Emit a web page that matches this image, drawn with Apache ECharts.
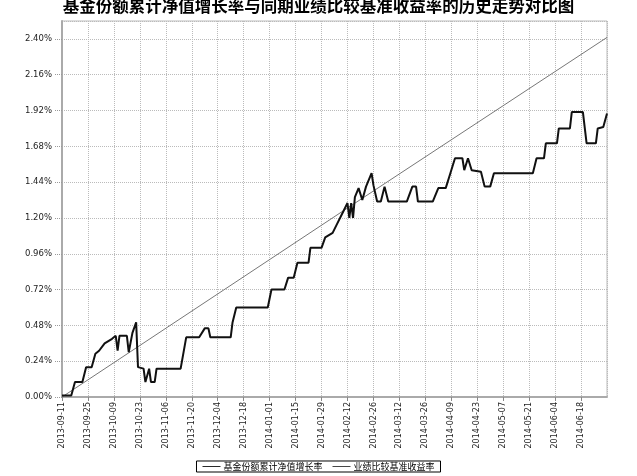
<!DOCTYPE html>
<html>
<head>
<meta charset="utf-8">
<script src="https://cdn.jsdelivr.net/npm/echarts@6/dist/echarts.min.js"></script>
<style>html,body{margin:0;padding:0;background:#fff}#c{width:637px;height:476px}</style>
</head>
<body>
<div id="c"></div>
<script>
var titleText = '基金份额累计净值增长率与同期业绩比较基准收益率的历史走势对比图';
var seriesNames = ['基金份额累计净值增长率', '业绩比较基准收益率'];
var startDate = '2013-09-11';
var endDate = '2014-07-02';
var yTicks = [0.00, 0.24, 0.48, 0.72, 0.96, 1.20, 1.44, 1.68, 1.92, 2.16, 2.40];

var fundDates = ['2013-09-11','2013-09-16','2013-09-18','2013-09-22','2013-09-24','2013-09-27','2013-09-29','2013-10-01','2013-10-04','2013-10-08','2013-10-10','2013-10-11','2013-10-12','2013-10-16','2013-10-17','2013-10-18','2013-10-19','2013-10-21','2013-10-22','2013-10-25','2013-10-26','2013-10-27','2013-10-28','2013-10-29','2013-10-31','2013-11-01','2013-11-14','2013-11-17','2013-11-24','2013-11-27','2013-11-29','2013-11-30','2013-12-11','2013-12-12','2013-12-14','2013-12-31','2014-01-02','2014-01-09','2014-01-11','2014-01-14','2014-01-16','2014-01-22','2014-01-23','2014-01-29','2014-01-31','2014-02-04','2014-02-06','2014-02-10','2014-02-12','2014-02-13','2014-02-14','2014-02-15','2014-02-16','2014-02-18','2014-02-20','2014-02-22','2014-02-25','2014-02-26','2014-02-28','2014-03-02','2014-03-04','2014-03-06','2014-03-16','2014-03-19','2014-03-21','2014-03-22','2014-03-30','2014-04-02','2014-04-06','2014-04-08','2014-04-11','2014-04-15','2014-04-16','2014-04-17','2014-04-18','2014-04-20','2014-04-25','2014-04-27','2014-04-30','2014-05-02','2014-05-23','2014-05-25','2014-05-29','2014-05-30','2014-06-05','2014-06-06','2014-06-12','2014-06-13','2014-06-19','2014-06-21','2014-06-26','2014-06-27','2014-06-30','2014-07-02'];
var fundValues = [0.01,0.01,0.10,0.10,0.20,0.20,0.29,0.31,0.36,0.39,0.41,0.31,0.41,0.41,0.30,0.30,0.43,0.50,0.20,0.19,0.10,0.10,0.19,0.10,0.10,0.19,0.19,0.40,0.40,0.46,0.46,0.40,0.40,0.50,0.60,0.60,0.72,0.72,0.80,0.80,0.90,0.90,1.00,1.00,1.07,1.10,1.15,1.25,1.30,1.20,1.30,1.20,1.34,1.40,1.32,1.41,1.50,1.42,1.31,1.31,1.41,1.31,1.31,1.41,1.41,1.31,1.31,1.40,1.40,1.48,1.60,1.60,1.52,1.52,1.60,1.52,1.51,1.41,1.41,1.50,1.50,1.60,1.60,1.70,1.70,1.80,1.80,1.91,1.91,1.70,1.70,1.80,1.81,1.90];

var benchDates = ['2013-09-11','2014-02-10','2014-07-02'];
var benchValues = [0.00, 1.25, 2.41];

var DAY = 86400000;
function dayOffset(s){ return Math.round((Date.parse(s) - Date.parse(startDate)) / DAY); }
function offsetLabel(v){
  var d = new Date(Date.parse(startDate) + v * DAY);
  var m = d.getUTCMonth() + 1, dd = d.getUTCDate();
  return d.getUTCFullYear() + '-' + (m < 10 ? '0' + m : m) + '-' + (dd < 10 ? '0' + dd : dd);
}
function pairs(dates, vals){ return dates.map(function(d, i){ return [dayOffset(d), vals[i]]; }); }

var lineIcon = 'path://M0,5 L20,5 L20,6 L0,6 Z';
var chart = echarts.init(document.getElementById('c'), null, {renderer: 'canvas'});
chart.setOption({
  animation: false,
  backgroundColor: '#fff',
  title: {
    text: titleText, left: 'center', top: -8,
    textStyle: {fontSize: 16.5, fontWeight: 'bold', color: '#000', fontFamily: 'Noto Sans CJK SC'}
  },
  legend: {
    bottom: 4, left: 'center',
    data: [{name: seriesNames[0], icon: lineIcon}, {name: seriesNames[1], icon: lineIcon}],
    borderColor: '#000', borderWidth: 1, padding: [1, 6], itemGap: 10,
    itemWidth: 18, itemHeight: 6,
    textStyle: {fontSize: 9, color: '#000', fontFamily: 'Noto Sans CJK SC', padding: [0, 0, 0, -2]}
  },
  grid: {left: 62, right: 30, top: 21, bottom: 79, show: true, borderColor: '#bbb', borderWidth: 1},
  xAxis: {
    type: 'value', min: 0, max: dayOffset(endDate), interval: 14,
    axisLine: {show: true, lineStyle: {color: '#aaa', width: 2}},
    axisTick: {show: true, length: 4, lineStyle: {color: '#888'}},
    splitLine: {show: true, lineStyle: {color: '#bbb', type: 'dotted', width: 1}},
    axisLabel: {
      rotate: 90, fontSize: 8, color: '#222', margin: 5, showMaxLabel: false,
      fontFamily: 'DejaVu Sans',
      formatter: function(v){ return offsetLabel(v); }
    }
  },
  yAxis: {
    type: 'value', min: 0, max: 2.52, interval: 0.24,
    axisLine: {show: true, lineStyle: {color: '#aaa', width: 2}},
    axisTick: {show: true, length: 8, lineStyle: {color: '#999', type: 'dotted'}},
    splitLine: {show: true, lineStyle: {color: '#bbb', type: 'dotted', width: 1}},
    axisLabel: {
      fontSize: 8.5, color: '#222', margin: 10, showMaxLabel: false, fontFamily: 'DejaVu Sans',
      formatter: function(v){ return v.toFixed(2) + '%'; }
    }
  },
  series: [
    {name: seriesNames[0], type: 'line', data: pairs(fundDates, fundValues), symbol: 'none',
     lineStyle: {color: '#111', width: 2}, itemStyle: {color: '#111'}, z: 3},
    {name: seriesNames[1], type: 'line', data: pairs(benchDates, benchValues), symbol: 'none',
     lineStyle: {color: '#777', width: 1}, itemStyle: {color: '#333'}, z: 2}
  ]
});
</script>
</body>
</html>
